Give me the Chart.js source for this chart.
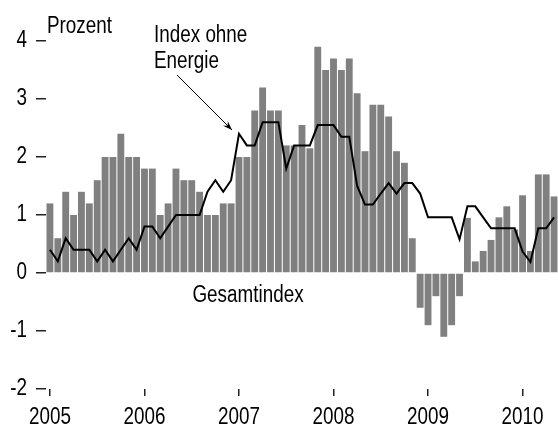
<!DOCTYPE html>
<html>
<head>
<meta charset="utf-8">
<script src="https://cdn.jsdelivr.net/npm/chart.js@4/dist/chart.umd.min.js"></script>
<style>
  html, body { margin: 0; padding: 0; background: #fff; }
  #wrap { width: 558px; height: 426px; position: relative; }
</style>
</head>
<body>
<div id="wrap"><canvas id="myChart"></canvas></div>
<script>
// Inflationsraten, monatlich Jan 2005 - Mai 2010
var years = ["2005", "2006", "2007", "2008", "2009", "2010"];
var monthsInLastYear = 5;

// Gesamtindex (Balken)
var gesamtindex = [
  1.2, 0.6, 1.4, 1.0, 1.4, 1.2, 1.6, 2.0, 2.0, 2.4, 2.0, 2.0,
  1.8, 1.8, 1.0, 1.2, 1.8, 1.6, 1.6, 1.4, 1.0, 1.0, 1.2, 1.2,
  2.0, 2.0, 2.8, 3.2, 2.8, 2.8, 2.2, 2.2, 2.55, 2.15, 3.9, 3.5,
  3.7, 3.5, 3.7, 3.1, 2.1, 2.9, 2.9, 2.7, 2.1, 1.9, 0.6, -0.6,
  -0.9, -0.4, -1.1, -0.9, -0.4, 0.95, 0.2, 0.38, 0.57, 0.96, 1.15, 0.75,
  1.34, 0.38, 1.7, 1.7, 1.32
];

// Index ohne Energie (Linie)
var ohneEnergie = [
  0.4, 0.2, 0.6, 0.4, 0.4, 0.4, 0.2, 0.4, 0.2, 0.4, 0.6, 0.4,
  0.8, 0.8, 0.6, 0.8, 1.0, 1.0, 1.0, 1.0, 1.4, 1.6, 1.4, 1.6,
  2.4, 2.2, 2.2, 2.6, 2.6, 2.6, 1.8, 2.2, 2.2, 2.2, 2.55, 2.55,
  2.55, 2.35, 2.35, 1.5, 1.18, 1.18, 1.37, 1.55, 1.37, 1.55, 1.55, 1.37,
  0.96, 0.96, 0.96, 0.96, 0.58, 1.15, 1.15, 0.96, 0.77, 0.77, 0.77, 0.77,
  0.37, 0.19, 0.77, 0.77, 0.96
];

var yTicks = [-2, -1, 0, 1, 2, 3, 4];

var labels = [];
for (var y = 0; y < years.length; y++) {
  var n = (y == years.length - 1) ? monthsInLastYear : 12;
  for (var m = 1; m <= n; m++) {
    labels.push(years[y] + "-" + (m < 10 ? "0" + m : m));
  }
}

// keine Narrow-Schrift installiert -> Liberation Sans horizontal gestaucht
var FONT = '23px "Liberation Sans", Arial, sans-serif';
var SQUEEZE = 0.82;

function narrowText(ctx, text, x, y, align, baseline) {
  ctx.save();
  ctx.translate(x, y);
  ctx.scale(SQUEEZE, 1);
  ctx.font = FONT;
  ctx.fillStyle = "#000";
  ctx.textAlign = align;
  ctx.textBaseline = baseline;
  ctx.fillText(text, 0, 0);
  ctx.restore();
}

// Achsenbeschriftung + Texte im Diagramm
var notes = {
  id: "notes",
  afterDraw: function(chart) {
    var ctx = chart.ctx;
    var xs = chart.scales.x, ys = chart.scales.y;

    xs.ticks.forEach(function(t, i) {
      if (i % 12 === 0) {
        narrowText(ctx, labels[i].slice(0, 4), xs.getPixelForTick(i), 424, "center", "alphabetic");
      }
    });
    ys.ticks.forEach(function(t) {
      narrowText(ctx, String(t.value), 27, ys.getPixelForValue(t.value), "right", "middle");
    });

    narrowText(ctx, "Prozent", 47, 33, "left", "alphabetic");
    narrowText(ctx, "Index ohne", 154, 42, "left", "alphabetic");
    narrowText(ctx, "Energie", 154, 68, "left", "alphabetic");
    narrowText(ctx, "Gesamtindex", 248, 302, "center", "alphabetic");

    // Pfeil
    var x1 = 177, y1 = 75, x2 = 232, y2 = 130;
    ctx.save();
    ctx.strokeStyle = "#000";
    ctx.lineWidth = 1;
    ctx.beginPath();
    ctx.moveTo(x1, y1);
    ctx.lineTo(x2, y2);
    ctx.stroke();
    var a = Math.atan2(y2 - y1, x2 - x1);
    var len = 10, spread = 0.35;
    ctx.beginPath();
    ctx.moveTo(x2, y2);
    ctx.lineTo(x2 - len * Math.cos(a - spread), y2 - len * Math.sin(a - spread));
    ctx.lineTo(x2 - len * 0.6 * Math.cos(a), y2 - len * 0.6 * Math.sin(a));
    ctx.lineTo(x2 - len * Math.cos(a + spread), y2 - len * Math.sin(a + spread));
    ctx.closePath();
    ctx.fillStyle = "#000";
    ctx.fill();
    ctx.restore();
  }
};

var ctx = document.getElementById("myChart");

var myChart = new Chart(ctx, {
  type: "bar",
  data: {
    labels: labels,
    datasets: [
      {
        type: "line",
        label: "Index ohne Energie",
        data: ohneEnergie,
        borderColor: "#000",
        borderWidth: 2,
        pointRadius: 0,
        tension: 0,
        fill: false
      },
      {
        label: "Gesamtindex",
        data: gesamtindex,
        backgroundColor: "#808080",
        borderWidth: 0,
        barPercentage: 0.87,
        categoryPercentage: 1.0
      }
    ]
  },
  options: {
    responsive: true,
    maintainAspectRatio: false,
    animation: false,
    layout: { padding: { top: 41, right: 0, bottom: 0, left: 0 } },
    plugins: {
      legend: { display: false },
      tooltip: { enabled: false }
    },
    scales: {
      x: {
        offset: true,
        border: { display: false },
        grid: {
          offset: false,
          drawOnChartArea: false,
          drawTicks: true,
          tickLength: 7,
          lineWidth: 1.5,
          color: function(c) { return c.index % 12 === 0 ? "#222" : "rgba(0,0,0,0)"; }
        },
        ticks: { autoSkip: false, display: false },
        afterFit: function(scale) { scale.height = 37; }
      },
      y: {
        min: yTicks[0],
        max: yTicks[yTicks.length - 1],
        border: { display: false },
        grid: {
          drawOnChartArea: false,
          drawTicks: true,
          tickLength: 10,
          lineWidth: 1.5,
          color: "#222"
        },
        afterBuildTicks: function(scale) {
          scale.ticks = yTicks.map(function(v) { return { value: v }; });
        },
        ticks: { display: false },
        afterFit: function(scale) { scale.width = 46; }
      }
    }
  },
  plugins: [notes]
});
</script>
</body>
</html>
